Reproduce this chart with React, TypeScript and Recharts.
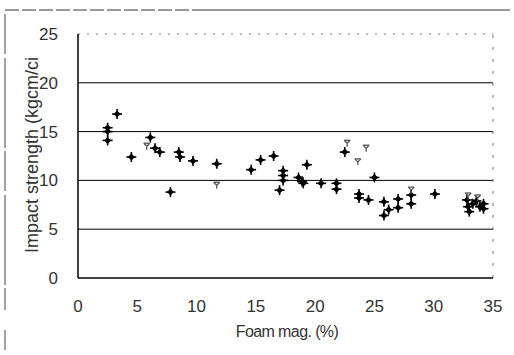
import React from "react";
import {
  ScatterChart,
  Scatter,
  XAxis,
  YAxis,
  ReferenceLine,
} from "recharts";

// foam magnification (%) vs impact strength (kgcm/cm)
const foamMag = [
  2.5, 2.5, 2.5, 3.3, 4.5, 6.1, 6.5, 6.9, 7.8, 8.5, 8.6, 9.7, 11.7, 14.6, 15.4,
  16.5, 17.0, 17.3, 17.3, 17.3, 18.6, 18.9, 19.0, 19.3, 20.5, 21.8, 21.8, 22.5,
  23.7, 23.7, 24.5, 25.0, 25.8, 25.8, 26.2, 27.0, 27.0, 28.1, 28.1, 30.1, 32.8,
  32.9, 33.0, 33.3, 33.6, 33.9, 34.2, 34.2,
];
const impact = [
  15.4, 15.0, 14.1, 16.8, 12.4, 14.4, 13.3, 12.9, 8.8, 12.9, 12.4, 12.0, 11.7,
  11.1, 12.1, 12.5, 9.0, 11.0, 10.5, 10.0, 10.3, 9.9, 9.7, 11.6, 9.7, 9.7, 9.1,
  12.9, 8.6, 8.2, 8.0, 10.3, 7.8, 6.4, 7.0, 8.1, 7.2, 8.5, 7.6, 8.6, 8.0, 7.3,
  6.8, 7.6, 7.9, 7.3, 7.6, 7.1,
];

// faint secondary marks
const foamMag2 = [5.8, 11.7, 22.7, 23.6, 24.3, 28.1, 32.9, 33.7];
const impact2 = [13.5, 9.5, 13.8, 11.9, 13.3, 9.0, 8.4, 8.2];

const xTicks = [0, 5, 10, 15, 20, 25, 30, 35];
const yTicks = [0, 5, 10, 15, 20, 25];
const gridValues = [5, 10, 15, 20];

const mainData = foamMag.map((x, i) => ({ x, y: impact[i] }));
const faintData = foamMag2.map((x, i) => ({ x, y: impact2[i] }));

const FONT = "'Liberation Sans', Arial, sans-serif";

function PlusDiamond(props: any) {
  const { cx, cy } = props;
  return (
    <g>
      <path
        d={`M${cx},${cy - 3.5} L${cx + 3.5},${cy} L${cx},${cy + 3.5} L${cx - 3.5},${cy} Z`}
        fill="#000"
      />
      <line x1={cx - 5} y1={cy} x2={cx + 5} y2={cy} stroke="#000" strokeWidth={1.6} />
      <line x1={cx} y1={cy - 5} x2={cx} y2={cy + 5} stroke="#000" strokeWidth={1.6} />
    </g>
  );
}

function FaintMark(props: any) {
  const { cx, cy } = props;
  return (
    <g stroke="#555" strokeWidth={1.3} fill="none">
      <line x1={cx - 3} y1={cy - 3} x2={cx} y2={cy} />
      <line x1={cx + 3} y1={cy - 3} x2={cx} y2={cy} />
      <line x1={cx} y1={cy} x2={cx} y2={cy + 3.5} />
      <line x1={cx - 3} y1={cy - 3} x2={cx + 3} y2={cy - 3} />
    </g>
  );
}

export default function App() {
  return (
    <div
      style={{
        position: "absolute",
        left: 0,
        top: 0,
        width: 514,
        height: 355,
        background: "#fff",
        fontFamily: FONT,
      }}
    >
      {/* scanned frame edges */}
      <svg width={514} height={355} style={{ position: "absolute", left: 0, top: 0 }}>
        <line x1={5} y1={10} x2={200} y2={10} stroke="#333" strokeWidth={1} strokeDasharray="14 3" />
        <line x1={200} y1={10} x2={510} y2={10} stroke="#333" strokeWidth={1} />
        <line x1={5} y1={14} x2={5} y2={310} stroke="#444" strokeWidth={1} strokeDasharray="40 4 90 3" />
        <line x1={5} y1={330} x2={5} y2={350} stroke="#444" strokeWidth={1} />
      </svg>

      <div style={{ position: "absolute", left: 0, top: 0 }}>
        <ScatterChart
          width={514}
          height={355}
          margin={{ top: 34, right: 21, left: 0, bottom: 0 }}
        >
          <XAxis
            type="number"
            dataKey="x"
            domain={[0, 35]}
            ticks={xTicks}
            height={77}
            axisLine={{ stroke: "#000", strokeWidth: 1.5 }}
            tickLine={false}
            tick={{ fill: "#333", fontSize: 17, fontFamily: FONT }}
            tickMargin={16}
          />
          <YAxis
            type="number"
            dataKey="y"
            domain={[0, 25]}
            ticks={yTicks}
            width={78}
            axisLine={{ stroke: "#000", strokeWidth: 1.5 }}
            tickLine={false}
            tick={{ fill: "#333", fontSize: 17, fontFamily: FONT }}
            tickMargin={14}
          />
          {gridValues.map((v) => (
            <ReferenceLine key={v} y={v} stroke="#000" strokeWidth={1} />
          ))}
          <ReferenceLine y={25} stroke="#777" strokeWidth={1} strokeDasharray="2 7" />
          <ReferenceLine x={35} stroke="#777" strokeWidth={1} strokeDasharray="3 9" />
          <Scatter
            data={mainData}
            shape={<PlusDiamond />}
            isAnimationActive={false}
          />
          <Scatter
            data={faintData}
            shape={<FaintMark />}
            isAnimationActive={false}
          />
        </ScatterChart>
      </div>

      <div
        style={{
          position: "absolute",
          left: 0,
          top: 323,
          width: 574,
          textAlign: "center",
          fontSize: 16,
          color: "#333",
          letterSpacing: -0.6,
        }}
      >
        Foam mag. (%)
      </div>
      <div
        style={{
          position: "absolute",
          left: 32,
          top: 155,
          transform: "translate(-50%, -50%) rotate(-90deg)",
          whiteSpace: "nowrap",
          fontSize: 18,
          color: "#333",
        }}
      >
        Impact strength (kgcm/ci
      </div>
    </div>
  );
}
